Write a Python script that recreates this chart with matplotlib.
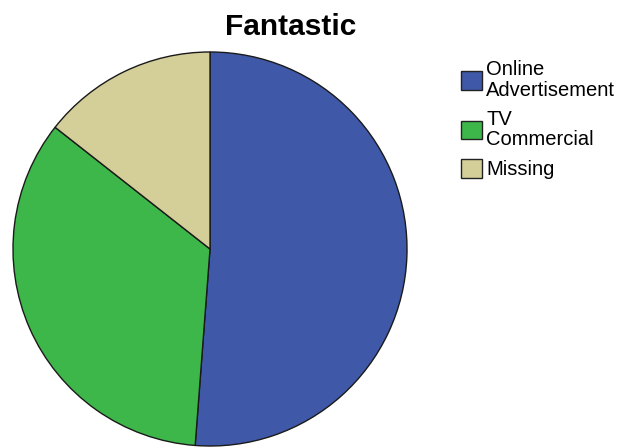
import matplotlib.pyplot as plt
from matplotlib.patches import Patch

# data
labels = ['Online\nAdvertisement', 'TV\nCommercial', 'Missing']
counts = [64, 43, 18]
colors = ['#3F58A8', '#3DB74A', '#D4CF98']

plt.rcParams['font.family'] = ['Liberation Sans', 'DejaVu Sans']

fig = plt.figure(figsize=(6.3, 4.47), dpi=100)
fig.patch.set_facecolor('white')

ax = fig.add_axes([12 / 630, 0 / 447, 396 / 630, 396 / 447])
ax.pie(counts, colors=colors, startangle=90, counterclock=False,
       wedgeprops={'edgecolor': '#1a1a1a', 'linewidth': 1.0})
ax.set_aspect('equal')
ax.set_xlim(-1.005, 1.005)
ax.set_ylim(-1.005, 1.005)

fig.text(291 / 630, 1 - 27 / 447, 'Fantastic', ha='center', va='center',
         fontsize=21.5, fontweight='bold')

handles = [Patch(facecolor=c, edgecolor='#222222', linewidth=1.0) for c in colors]
leg = fig.legend(handles, labels, loc='upper left',
                 bbox_to_anchor=(461 / 630, 1 - 60 / 447),
                 frameon=False, fontsize=14.5, handlelength=1.05, handleheight=1.05,
                 handletextpad=0.2, labelspacing=0.5, borderpad=0, borderaxespad=0)
for t in leg.get_texts():
    t.set_linespacing(1.1)

fig.savefig('out.png', dpi=100)
